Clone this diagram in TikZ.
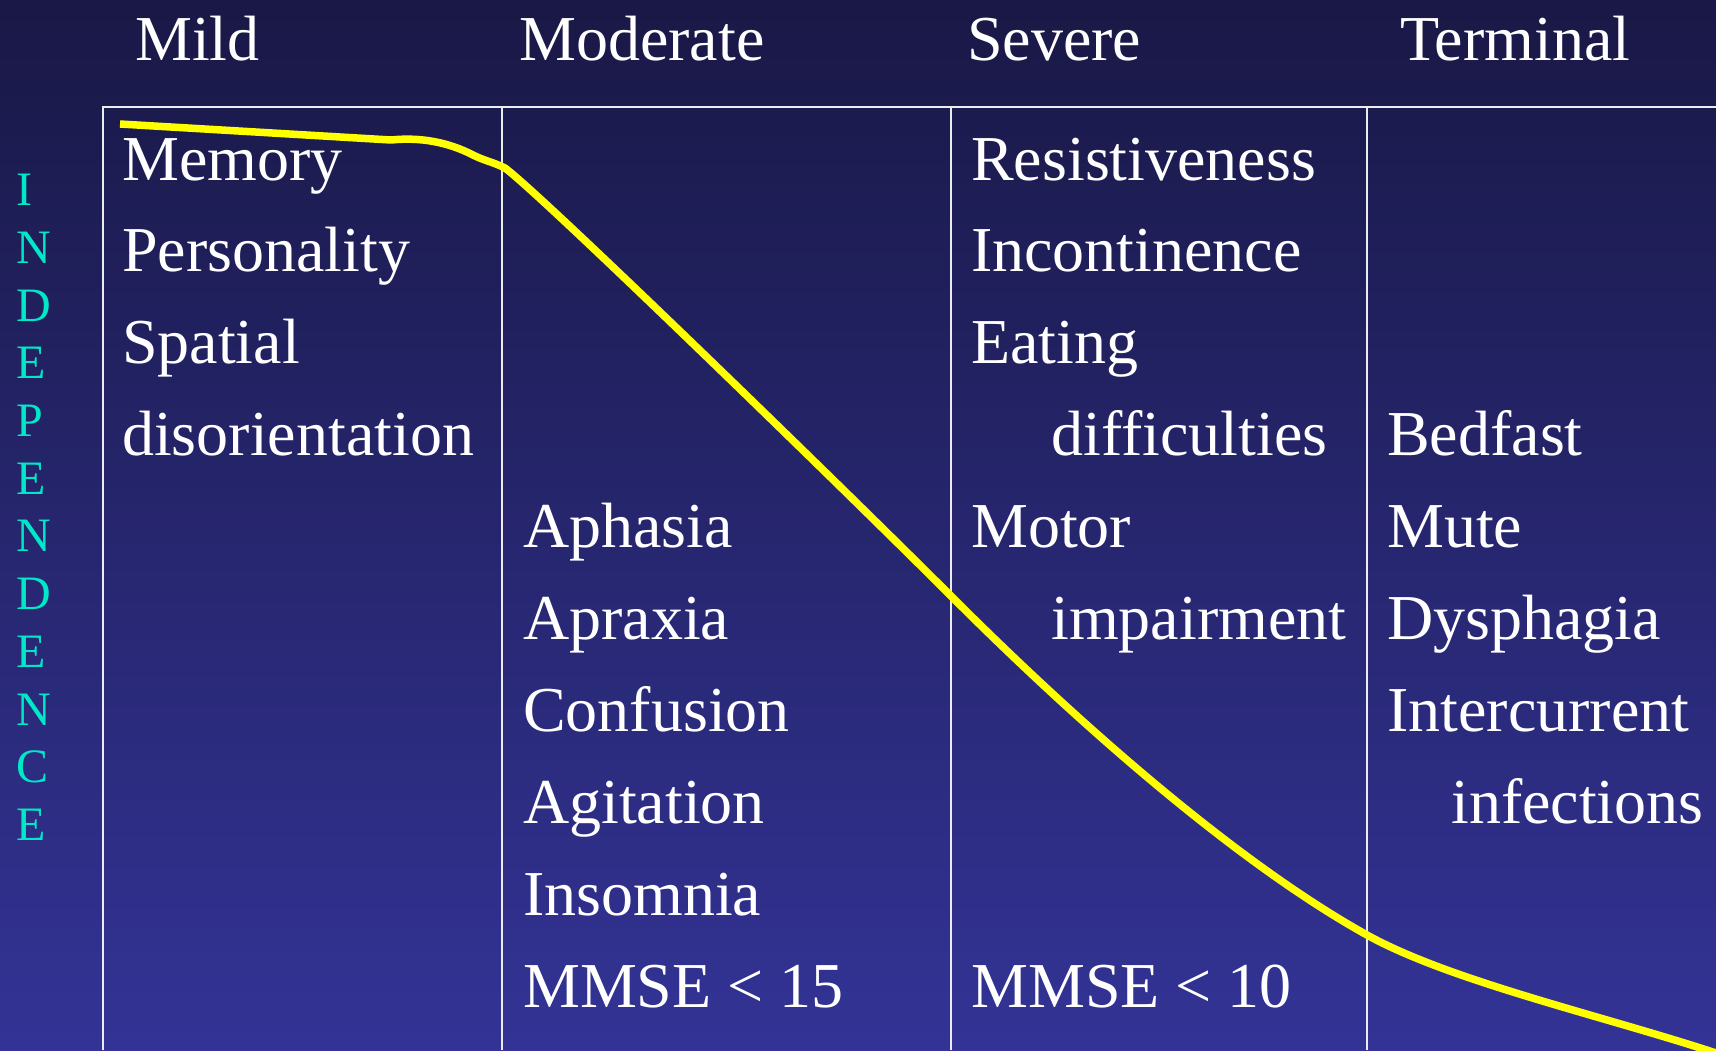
\documentclass[tikz,border=0pt]{standalone}
\usepackage{fontspec}
\setmainfont{Liberation Serif}
\definecolor{bgtop}{RGB}{25,24,70}
\definecolor{bgbot}{RGB}{51,51,150}
\definecolor{indep}{RGB}{0,232,200}
\definecolor{gridc}{RGB}{235,235,240}
\definecolor{curvec}{RGB}{255,255,0}
\begin{document}
\begin{tikzpicture}[x=1pt,y=-1pt,
  txt/.style={anchor=base west, inner sep=0pt, text=white, font=\fontsize{64}{70}\selectfont},
  letter/.style={anchor=base west, inner sep=0pt, text=indep, font=\fontsize{48}{50}\selectfont},
  gridline/.style={draw=gridc, line width=1.6pt},
  curve/.style={draw=curvec, line width=7.5pt}]
\useasboundingbox (0,0) rectangle (1716,1050);
\shade[top color=bgtop, bottom color=bgbot] (0,0) rectangle (1716,1050);
% grid
\coordinate (t0) at (103,107);
\coordinate (t1) at (502,107);
\coordinate (t2) at (951,107);
\coordinate (t3) at (1367,107);
\coordinate (tr) at (1716,107);
\coordinate (b0) at (103,1050);
\coordinate (b1) at (502,1050);
\coordinate (b2) at (951,1050);
\coordinate (b3) at (1367,1050);
\draw[gridline] (tr) -- (t0) -- (b0);
\draw[gridline] (t1) -- (b1);
\draw[gridline] (t2) -- (b2);
\draw[gridline] (t3) -- (b3);
% headers
\node[txt] (hmild) at (135,60) {Mild};
\node[txt] (hmod) at (519,60) {Moderate};
\node[txt] (hsev) at (967,60) {Severe};
\node[txt] (hterm) at (1400,60) {Terminal};
% column 1
\node[txt] (c1a) at (122,{180+0*91.9}) {Memory};
\node[txt] (c1b) at (122,{180+1*91.9}) {Personality};
\node[txt] (c1c) at (122,{180+2*91.9}) {Spatial};
\node[txt] (c1d) at (122,{180+3*91.9}) {disorientation};
% column 2
\node[txt] (c2a) at (523,{180+4*91.9}) {Aphasia};
\node[txt] (c2b) at (523,{180+5*91.9}) {Apraxia};
\node[txt] (c2c) at (523,{180+6*91.9}) {Confusion};
\node[txt] (c2d) at (523,{180+7*91.9}) {Agitation};
\node[txt] (c2e) at (523,{180+8*91.9}) {Insomnia};
\node[txt] (c2f) at (523,{180+9*91.9}) {MMSE < 15};
% column 3
\node[txt] (c3a) at (971,{180+0*91.9}) {Resistiveness};
\node[txt] (c3b) at (971,{180+1*91.9}) {Incontinence};
\node[txt] (c3c) at (971,{180+2*91.9}) {Eating};
\node[txt] (c3d) at (1051,{180+3*91.9}) {difficulties};
\node[txt] (c3e) at (971,{180+4*91.9}) {Motor};
\node[txt] (c3f) at (1051,{180+5*91.9}) {impairment};
\node[txt] (c3g) at (971,{180+9*91.9}) {MMSE < 10};
% column 4
\node[txt] (c4a) at (1387,{180+3*91.9}) {Bedfast};
\node[txt] (c4b) at (1387,{180+4*91.9}) {Mute};
\node[txt] (c4c) at (1387,{180+5*91.9}) {Dysphagia};
\node[txt] (c4d) at (1387,{180+6*91.9}) {Intercurrent};
\node[txt] (c4e) at (1451,{180+7*91.9}) {infections};
% INDEPENDENCE
\foreach \ch [count=\i from 0] in {I,N,D,E,P,E,N,D,E,N,C,E} {
  \node[letter] (ind\i) at (16,{205.7+\i*57.7}) {\ch};
}
% curve
\draw[curve, line join=round] (120,124) -- (391,140)
  .. controls (420,137) and (448,142) .. (473,155)
  .. controls (485,161) and (493,162) .. (505,168)
  .. controls (545,198) and (850,495) .. (951,596)
  .. controls (1100,745) and (1250,870) .. (1367,935)
  .. controls (1450,981) and (1600,1015) .. (1716,1053);
\end{tikzpicture}
\end{document}
